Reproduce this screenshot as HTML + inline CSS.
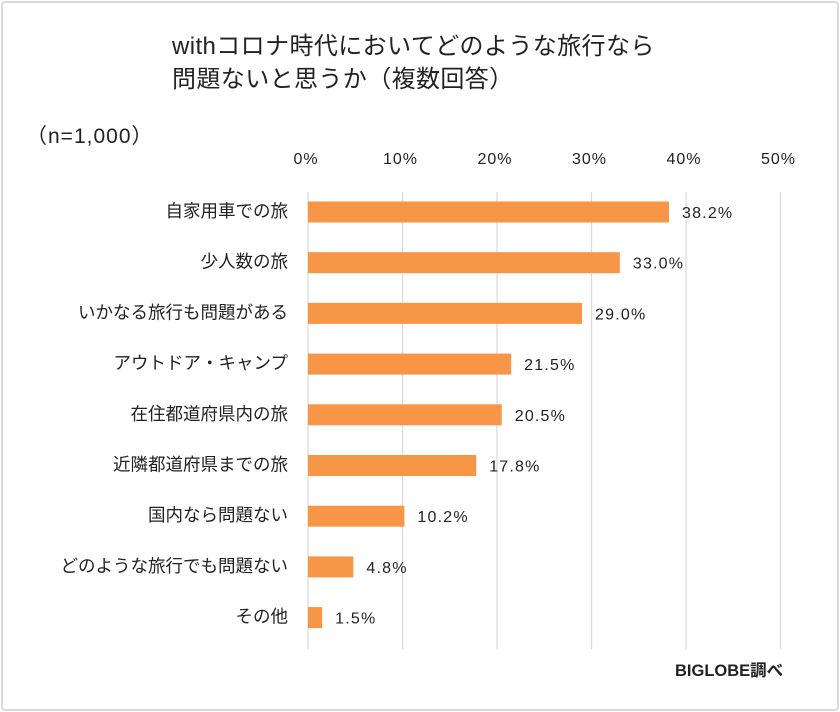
<!DOCTYPE html>
<html><head><meta charset="utf-8">
<style>
html,body{margin:0;padding:0;background:#fff;}
body{width:840px;height:712px;overflow:hidden;position:relative;font-family:"Liberation Sans","Noto Sans CJK JP",sans-serif;color:#222;}
#frame{position:absolute;left:1px;top:1px;width:834px;height:706px;border:2px solid #d9d9d9;border-radius:4px;}
.t{position:absolute;white-space:nowrap;}
</style></head><body>
<div id="frame"></div>
<div class="t" style="left:172px;top:30px;font-size:24px;line-height:33px;letter-spacing:0.4px;">withコロナ時代においてどのような旅行なら<br>問題ないと思うか（複数回答）</div>
<div class="t" style="left:26px;top:120px;font-size:21px;letter-spacing:1px;">（n=1,000）</div>
<svg id="chart" width="840" height="712" style="position:absolute;left:0;top:0"></svg>
<div class="t" style="left:675px;top:657px;font-size:16.5px;font-weight:bold;">BIGLOBE調べ</div>
<script>
const categories=["自家用車での旅","少人数の旅","いかなる旅行も問題がある","アウトドア・キャンプ","在住都道府県内の旅","近隣都道府県までの旅","国内なら問題ない","どのような旅行でも問題ない","その他"];
const values=[38.2,33.0,29.0,21.5,20.5,17.8,10.2,4.8,1.5];
const ticks=[0,10,20,30,40,50];
const NS="http://www.w3.org/2000/svg";
const svg=document.getElementById('chart');
const x0=308,pxPer=9.45,yTop=192,yBot=649,y0=212,step=50.7,bh=21;
const xs=v=>x0+v*pxPer;
const ys=i=>y0+i*step;
function mk(tag,attrs,text){const e=document.createElementNS(NS,tag);for(const k in attrs)e.setAttribute(k,attrs[k]);if(text!==undefined)e.textContent=text;svg.appendChild(e);return e;}
ticks.forEach(t=>{
  const l=mk('line',{x1:xs(t),x2:xs(t),y1:yTop,y2:yBot,stroke:'#d9d9d9','stroke-width':1.2});
  
  
  const tx=mk('text',{x:xs(t)-2,y:164,'text-anchor':'middle','font-size':16,'letter-spacing':1,fill:'#222'},t+'%');
  
  
});
categories.forEach((c,i)=>{
  const y=ys(i);
  const r=mk('rect',{x:x0,y:y-bh/2,width:xs(values[i])-x0,height:bh,fill:'#f79646'});
  
  
  const lb=mk('text',{x:288,y:y+5,'text-anchor':'end','font-size':17.5,fill:'#222'},c);
  
  
  const v=mk('text',{x:xs(values[i])+13,y:y+6,'font-size':16,'letter-spacing':1.2,fill:'#222'},values[i].toFixed(1)+'%');
  
  
});
</script>
</body></html>
